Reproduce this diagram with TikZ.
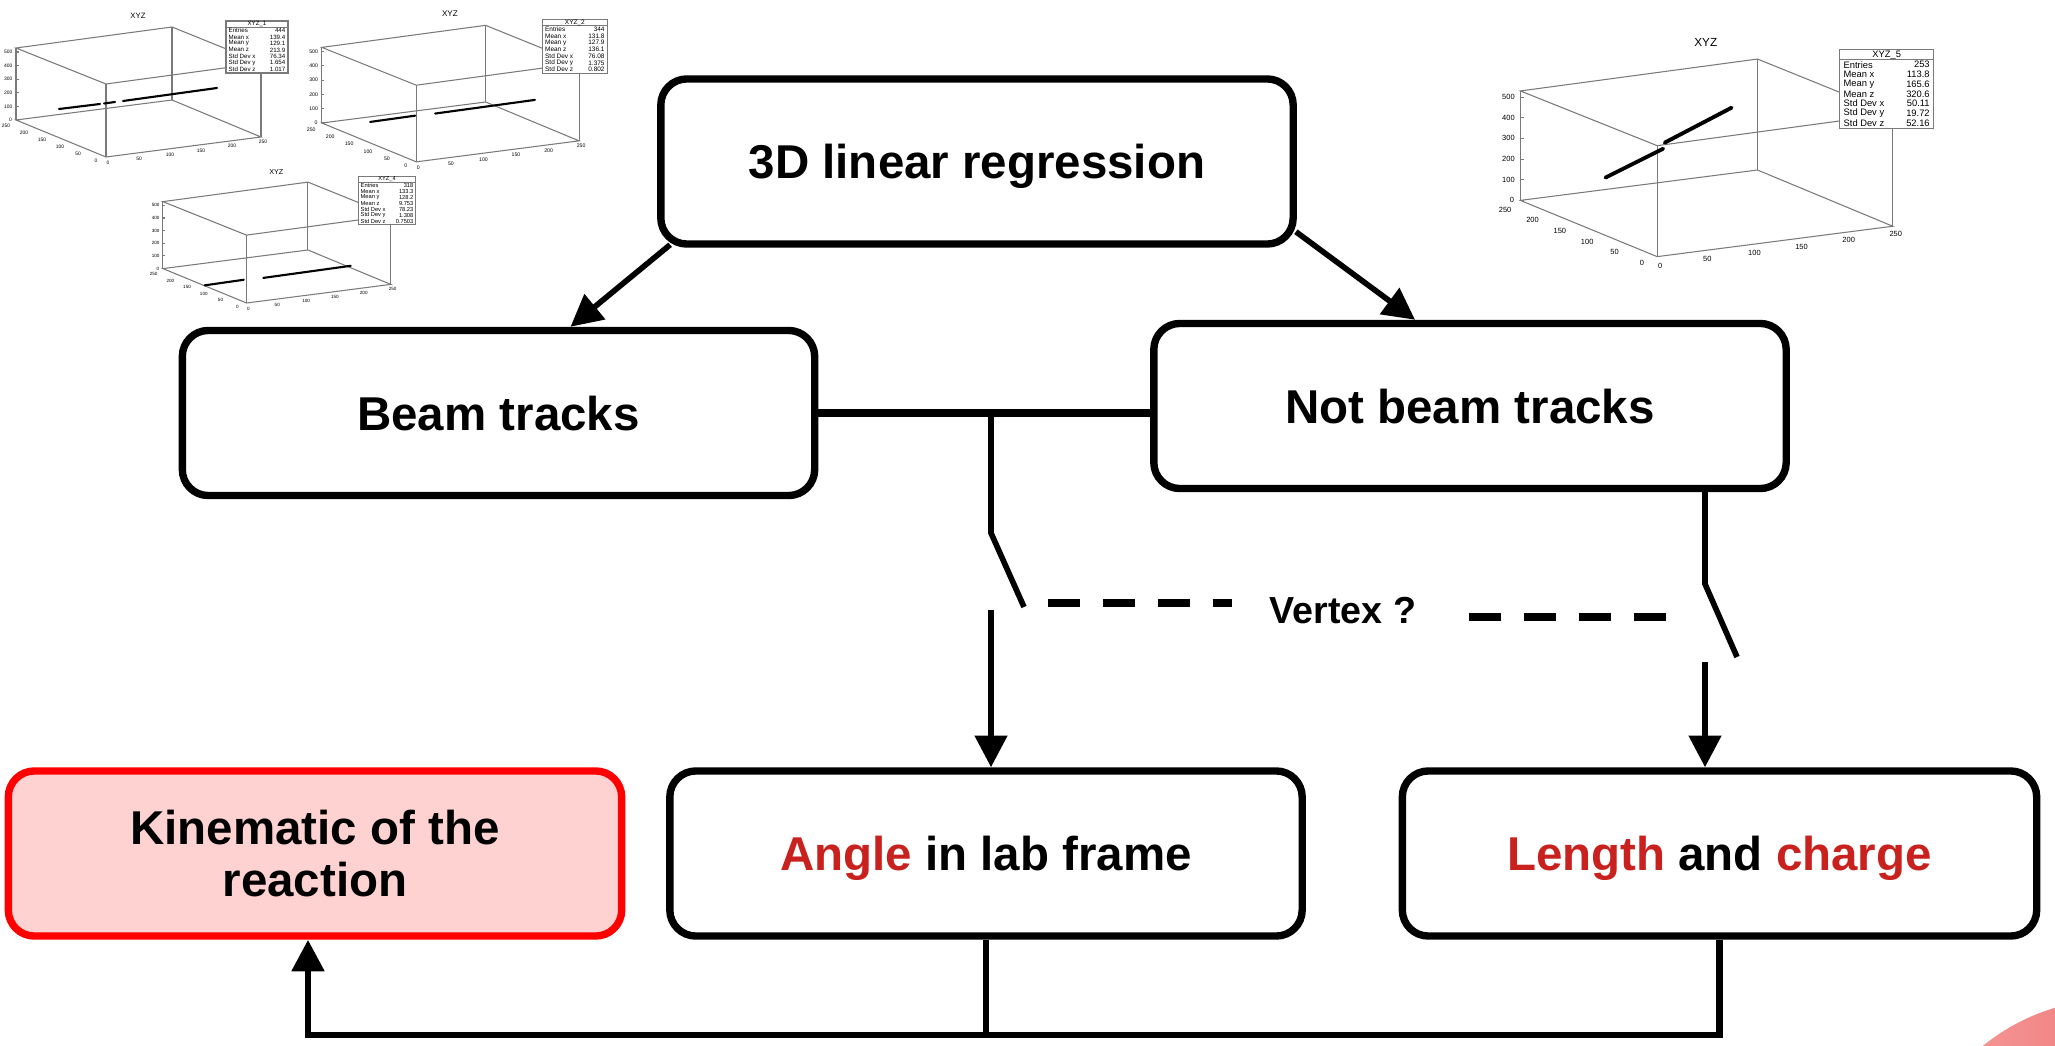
\documentclass[tikz,border=0pt]{standalone}
\usepackage{fontspec}
\setmainfont{Liberation Sans}
\usepackage{tikz}
\usetikzlibrary{arrows.meta,calc,positioning,shapes}

\definecolor{hlred}{HTML}{C9211E}
\definecolor{kinred}{HTML}{FF0000}
\definecolor{kinfill}{HTML}{FFD2D2}
\definecolor{framegray}{HTML}{7A7A7A}
\definecolor{blobl}{HTML}{F5A0A0}
\definecolor{blobd}{HTML}{EF5A5A}

\tikzset{
  box/.style={draw=black, line width=2.1pt, rounded corners=0.26cm, fill=white,
    minimum width=6.32cm, minimum height=1.65cm, align=center, text depth=0pt,
    font=\fontsize{13.5}{14.8}\selectfont\bfseries},
  kinbox/.style={box, draw=kinred, fill=kinfill, minimum width=6.13cm},
  link/.style={line width=1.6pt},
  arr/.style={link, -{Triangle[length=9pt,width=9pt]}},
  vdash/.style={line width=2.2pt, dash pattern=on 9.1pt off 6.5pt},
  frame/.style={draw=framegray, line width=0.3pt},
  ticklab/.style={font=\fontsize{1.4}{1.6}\selectfont, inner sep=0pt},
  statlab/.style={font=\fontsize{1.75}{2}\selectfont, inner sep=0pt},
  track/.style={line width=0.6pt, line cap=round}
}

% small ROOT-like 3D view: #1 name, #2..#8 statistics
\newcommand{\xyzplot}[8]{%
  % box
  \draw[frame] (16,120) -- (106,157) -- (261,137) -- (172,100) -- cycle;
  \draw[frame] (16,48) -- (106,84) -- (261,63) -- (172,27) -- cycle;
  \draw[frame] (16,48) -- (16,120) (106,84) -- (106,157)
    (261,63) -- (261,137) (172,27) -- (172,100);
  % axes
  \foreach \v [count=\i from 0] in {0,100,200,300,400,500}
    {\draw[frame] (16,{120-13.6*\i}) -- (18.5,{120-13.6*\i});
     \node[ticklab,anchor=east] at (13,{120-13.6*\i}) {\v};}
  \foreach \v [count=\i from 0] in {250,200,150,100,50,0}
    \node[ticklab] at ({6+18*\i},{126+7*\i}) {\v};
  \foreach \v [count=\i from 0] in {0,50,100,150,200,250}
    \node[ticklab] at ({108+31*\i},{163-4.2*\i}) {\v};
  \node[statlab, font=\fontsize{2.2}{2.4}\selectfont] at (138,16) {XYZ};
  % stats
  \draw[frame, fill=white] (226,21) rectangle (288,73);
  \draw[frame] (226,27.5) -- (288,27.5);
  \node[statlab] at (257,24.3) {#1};
  \foreach \k/\v [count=\i] in {Entries/#2,Mean x/#3,Mean y/#4,Mean z/#5,
      Std Dev x/#6,Std Dev y/#7,Std Dev z/#8}
    {\node[statlab,anchor=west] at (228,{24.3+6.4*\i}) {\k};
     \node[statlab,anchor=east] at (286,{24.3+6.4*\i}) {\v};}
}

\begin{document}
\begin{tikzpicture}[x=0.01cm, y=-0.01cm]
  \useasboundingbox (0,0) rectangle (2055,1046);
  \fill[white] (0,0) rectangle (2055,1046);

  % corner decoration
  \begin{scope}
    \clip (0,0) rectangle (2055,1046);
    \shade[left color=blobl, right color=blobd] (2114,1207) circle[radius=2.076cm];
  \end{scope}

  % track views
  \begin{scope}[transform shape]
    \xyzplot{XYZ\_1}{444}{139.4}{129.1}{213.9}{76.34}{1.654}{1.017}
    \draw[track] (59,109) -- (100,104) (104,103.5) -- (115,102) (123,101) -- (217,88);
  \end{scope}
  \begin{scope}[shift={(305,-3)}, scale=1.05, transform shape]
    \xyzplot{XYZ\_2}{344}{131.8}{127.9}{136.1}{76.08}{1.375}{0.802}
    \draw[track] (62,119) -- (105,113) (124,111) -- (219,98);
  \end{scope}
  \begin{scope}[shift={(148,157)}, scale=0.93, transform shape]
    \xyzplot{XYZ\_4}{318}{133.3}{128.2}{9.753}{78.23}{1.308}{0.7503}
    \draw[track] (61,138) -- (103,132) (124,130) -- (218,117);
  \end{scope}
  \begin{scope}[shift={(1496,18)}, scale=1.52, transform shape]
    \xyzplot{XYZ\_5}{253}{113.8}{165.6}{320.6}{50.11}{19.72}{52.16}
    \draw[track, line width=1.1pt] (72,105) -- (110,86) (111,82) -- (155,59);
  \end{scope}

  % flow chart
  \node[box] (reg) at (977,161.5) {3D linear regression};
  \node[box] (beam) at (498.5,413) {Beam tracks};
  \node[box] (nbeam) at (1470,406) {Not beam tracks};
  \node[kinbox] (kin) at (315,853.5) {Kinematic of the\\reaction};
  \node[box] (angle) at (986,853.5) {\textcolor{hlred}{Angle} in lab frame};
  \node[box, minimum width=6.34cm] (lench) at (1719.5,853.5)
    {\textcolor{hlred}{Length} and \textcolor{hlred}{charge}};
  \node[font=\fontsize{10.7}{12}\selectfont\bfseries] (vtx) at (1343,611) {Vertex ?};

  \draw[arr] ($(reg.south west)+(13,-3)$) -- ($(beam.north)+(72,0)$);
  \draw[arr] ($(reg.south east)+(-1,-16)$) -- ($(nbeam.north)+(-55,0)$);
  \draw[link, line width=2pt] (beam.east) -- (beam.east -| nbeam.west);

  % switches
  \coordinate (jl) at (991,413);
  \coordinate (swl) at (991,533);
  \coordinate (swle) at (1024,607);
  \coordinate (inl) at (991,610);
  \coordinate (swr) at (1705,584);
  \coordinate (swre) at (1737,657);
  \coordinate (inr) at (1705,662);
  \draw[link] (jl) -- (swl) -- (swle);
  \draw[arr] (inl) -- (inl |- angle.north);
  \draw[link] (nbeam.south -| swr) -- (swr) -- (swre);
  \draw[arr] (inr) -- (inr |- lench.north);

  \coordinate (dl0) at (1048,603);
  \coordinate (dl1) at (1232,603);
  \coordinate (dr0) at (1469,617);
  \coordinate (dr1) at (1669,617);
  \draw[vdash] (dl0) -- (dl1);
  \draw[vdash] (dr0) -- (dr1);

  % back to the kinematics
  \coordinate (fb) at (308,1035);
  \draw[link] (angle.south) -- (angle.south |- fb);
  \draw[arr, line width=1.9pt] (lench.south) -- (lench.south |- fb) -- (fb) -- (fb |- kin.south);
\end{tikzpicture}
\end{document}
